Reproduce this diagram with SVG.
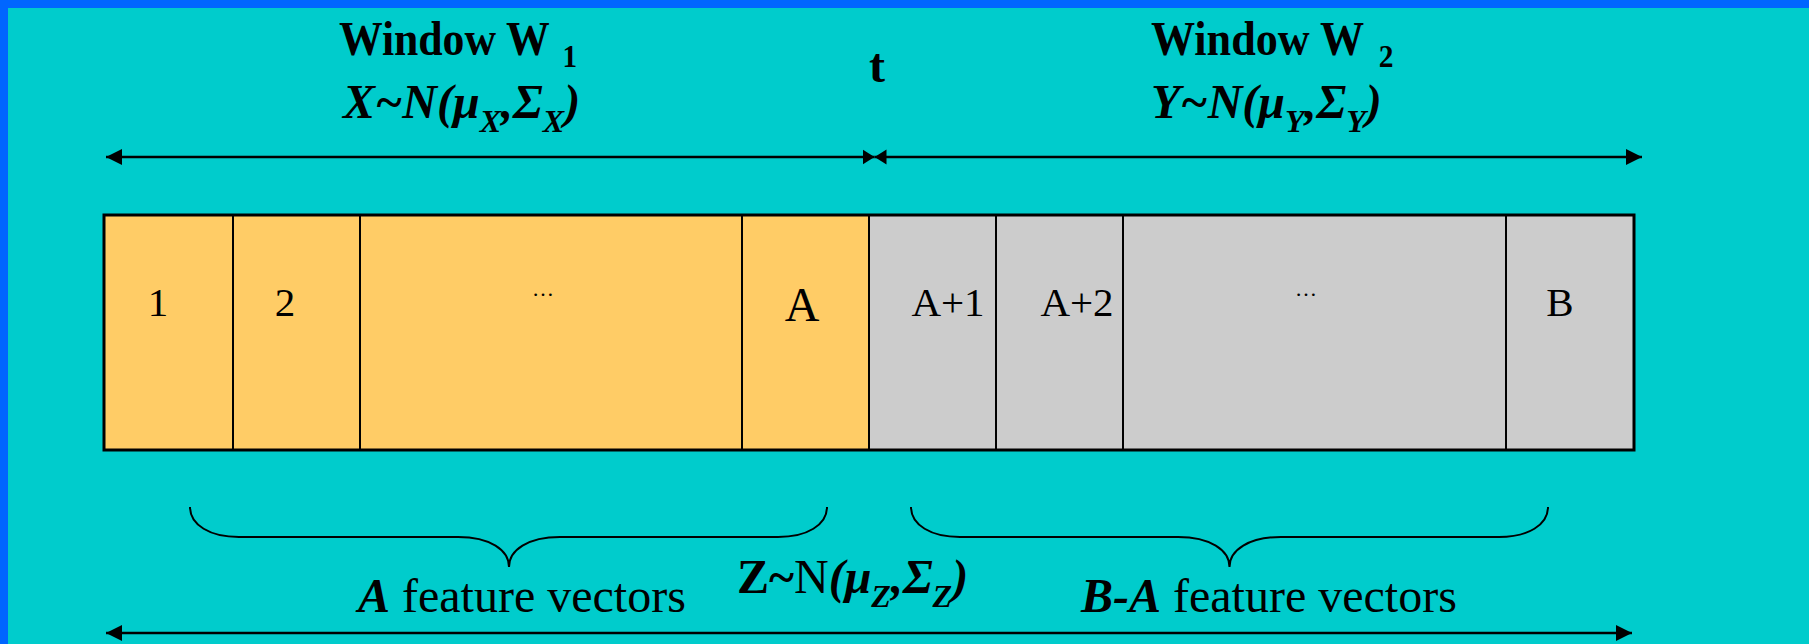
<svg xmlns="http://www.w3.org/2000/svg" width="1809" height="644" viewBox="0 0 1809 644">
<defs>
<style>
.bg{fill:#00CCCC}
.frame{fill:#0066FF}
.cell{stroke:#000;stroke-width:2}
.orange{fill:#FFCC66}
.gray{fill:#CCCCCC}
.outer{fill:none;stroke:#000;stroke-width:3}
.lbl{font-family:"Liberation Serif","Times New Roman",serif;font-size:41px;fill:#000;text-anchor:middle}
.dots{font-family:"Liberation Serif","Times New Roman",serif;font-size:22px;fill:#000;text-anchor:middle}
.tb{font-family:"Liberation Serif","Times New Roman",serif;font-size:48px;font-weight:bold;fill:#000}
.tr{font-family:"Liberation Serif","Times New Roman",serif;font-size:48px;fill:#000}
.bi{font-weight:bold;font-style:italic}
.sub{font-size:32px}
.arrow{stroke:#000;stroke-width:2.5;fill:none}
.brace{stroke:#000;stroke-width:2;fill:none}
</style>
<marker id="ahEnd" markerUnits="userSpaceOnUse" markerWidth="16" markerHeight="16" refX="16" refY="8" orient="auto">
<path d="M0,0 L16,8 L0,16 Z" fill="#000"/>
</marker>
<marker id="ahStart" markerUnits="userSpaceOnUse" markerWidth="16" markerHeight="16" refX="0" refY="8" orient="auto">
<path d="M16,0 L0,8 L16,16 Z" fill="#000"/>
</marker>
<marker id="ahEndS" markerUnits="userSpaceOnUse" markerWidth="12" markerHeight="16" refX="12" refY="8" orient="auto">
<path d="M0,0.5 L12,8 L0,15.5 Z" fill="#000"/>
</marker>
<marker id="ahStartS" markerUnits="userSpaceOnUse" markerWidth="12" markerHeight="16" refX="0" refY="8" orient="auto">
<path d="M12,0.5 L0,8 L12,15.5 Z" fill="#000"/>
</marker>
</defs>

<rect class="bg" x="0" y="0" width="1809" height="644"/>
<rect class="frame" x="0" y="0" width="1809" height="8"/>
<rect class="frame" x="0" y="0" width="8" height="644"/>

<g id="cells">
<g id="cell-1"><rect class="cell orange" x="104" y="215" width="129" height="235"/><text class="lbl" x="158" y="316">1</text></g>
<g id="cell-2"><rect class="cell orange" x="233" y="215" width="127" height="235"/><text class="lbl" x="285" y="316">2</text></g>
<g id="cell-dots1"><rect class="cell orange" x="360" y="215" width="382" height="235"/><text class="dots" x="543" y="296">…</text></g>
<g id="cell-A"><rect class="cell orange" x="742" y="215" width="127" height="235"/><text class="tr" x="802" y="321" text-anchor="middle">A</text></g>
<g id="cell-A1"><rect class="cell gray" x="869" y="215" width="127" height="235"/><text class="lbl" x="948" y="316">A+1</text></g>
<g id="cell-A2"><rect class="cell gray" x="996" y="215" width="127" height="235"/><text class="lbl" x="1077" y="316">A+2</text></g>
<g id="cell-dots2"><rect class="cell gray" x="1123" y="215" width="383" height="235"/><text class="dots" x="1306" y="296">…</text></g>
<g id="cell-B"><rect class="cell gray" x="1506" y="215" width="128" height="235"/><text class="lbl" x="1560" y="316">B</text></g>
<rect class="outer" x="104" y="215" width="1530" height="235"/>
</g>

<g id="connectors">
<line class="arrow" x1="106" y1="157" x2="874.5" y2="157" marker-start="url(#ahStart)" marker-end="url(#ahEndS)"/>
<line class="arrow" x1="874.5" y1="157" x2="1642" y2="157" marker-start="url(#ahStartS)" marker-end="url(#ahEnd)"/>
<line class="arrow" x1="106" y1="633" x2="1632" y2="633" marker-start="url(#ahStart)" marker-end="url(#ahEnd)"/>
<path class="brace" d="M190,507 C190,525 210,537 239,537 L458,537 C490,537 509,550 509,567 C509,550 528,537 560,537 L778,537 C807,537 827,525 827,507"/>
<path class="brace" d="M911,507 C911,525 931,537 960,537 L1178,537 C1210,537 1229.5,550 1229.5,567 C1229.5,550 1249,537 1281,537 L1499,537 C1528,537 1548,525 1548,507"/>
</g>

<g id="label-w1">
<text class="tb" transform="translate(339,55) scale(0.91,1)">Window W<tspan class="sub" dx="14" dy="12">1</tspan></text>
<text class="tb" font-style="italic" x="343" y="118">X~N(μ<tspan class="sub" dy="14">X</tspan><tspan dy="-14">,Σ</tspan><tspan class="sub" dy="14">X</tspan><tspan dy="-14">)</tspan></text>
</g>
<g id="label-t">
<text class="tb" x="877" y="82" text-anchor="middle">t</text>
</g>
<g id="label-w2">
<text class="tb" transform="translate(1151,55) scale(0.92,1)">Window W<tspan class="sub" dx="16" dy="12">2</tspan></text>
<text class="tb" font-style="italic" x="1151" y="118">Y~N(μ<tspan class="sub" dy="14">Y</tspan><tspan dy="-14">,Σ</tspan><tspan class="sub" dy="14">Y</tspan><tspan dy="-14">)</tspan></text>
</g>
<g id="label-a">
<text class="tr" x="358" y="612"><tspan class="bi">A</tspan> feature vectors</text>
</g>
<g id="label-z">
<text class="tr" x="737" y="593"><tspan font-weight="bold">Z~</tspan>N<tspan class="bi">(μ</tspan><tspan class="bi sub" dy="14">Z</tspan><tspan class="bi" dy="-14">,Σ</tspan><tspan class="bi sub" dy="14">Z</tspan><tspan class="bi" dy="-14">)</tspan></text>
</g>
<g id="label-ba">
<text class="tr" x="1081" y="612"><tspan class="bi">B-A</tspan> feature vectors</text>
</g>
</svg>
